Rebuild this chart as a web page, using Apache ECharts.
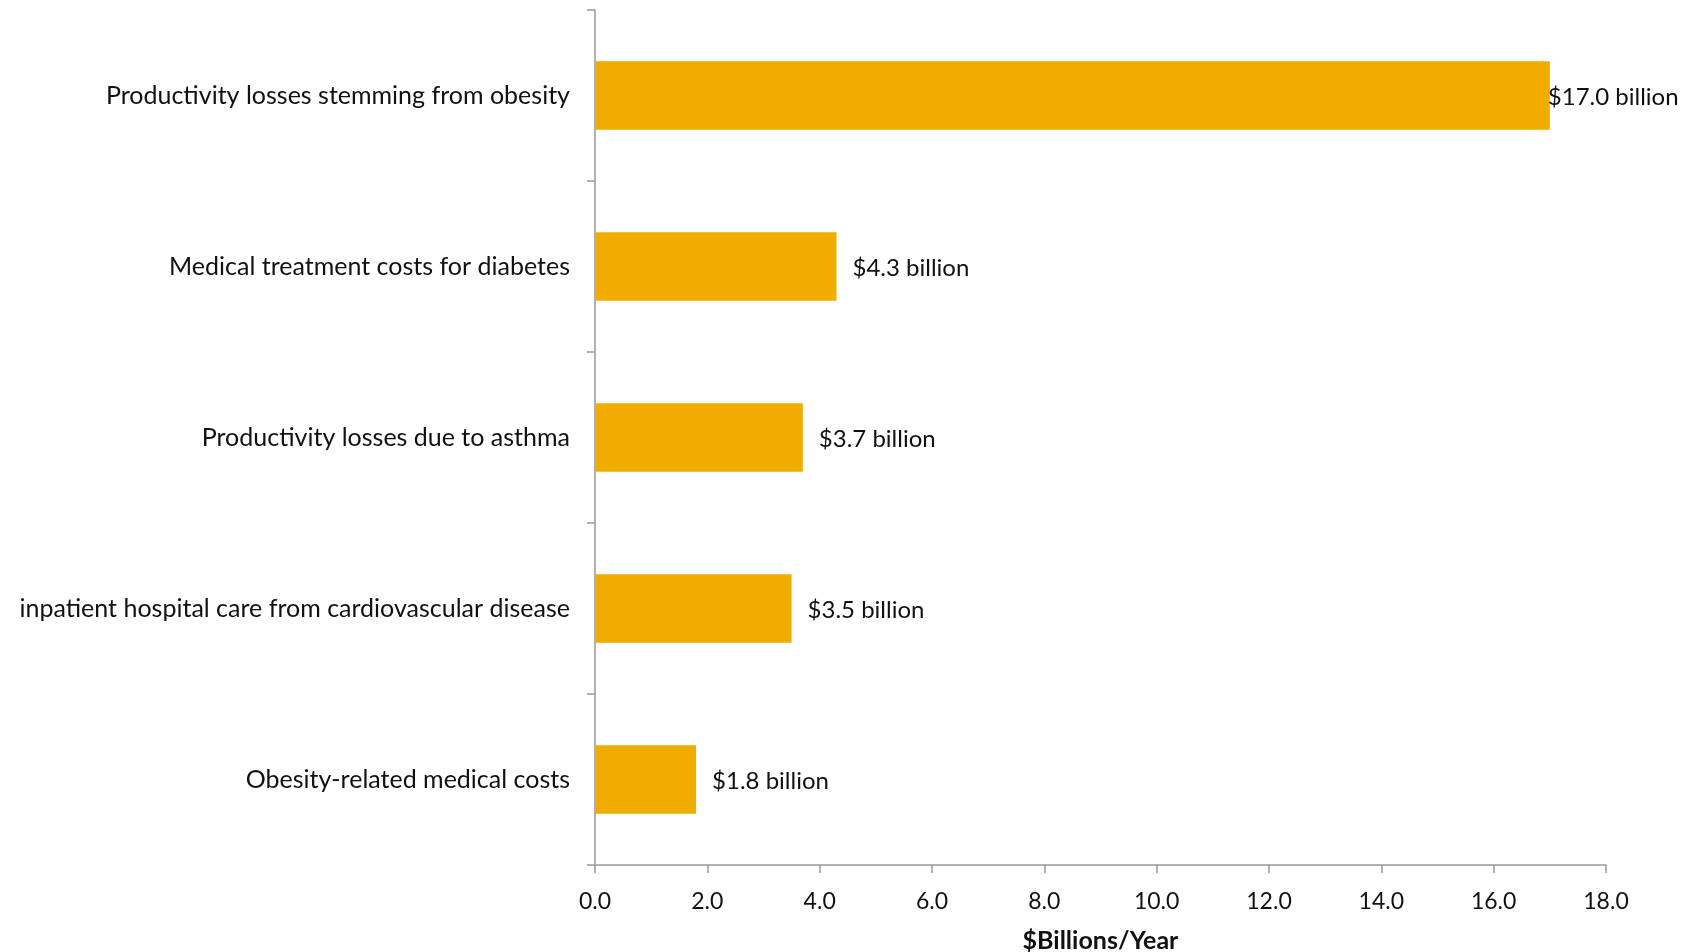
<!DOCTYPE html>
<html>
<head>
<meta charset="utf-8">
<script src="https://cdn.jsdelivr.net/npm/echarts@6/dist/echarts.min.js"></script>
<style>
  html, body { margin: 0; padding: 0; background: #fff; }
  #main { width: 1686px; height: 952px; }
</style>
</head>
<body>
<div id="main"></div>
<script>
// categories top to bottom, values in $ billions per year
const categories = [
  'Productivity losses stemming from obesity',
  'Medical treatment costs for diabetes',
  'Productivity losses due to asthma',
  'inpatient hospital care from cardiovascular disease',
  'Obesity-related medical costs'
];
const costs = [17.0, 4.3, 3.7, 3.5, 1.8];
const xTickMax = 18;
const xTickStep = 2;

let chart = echarts.init(document.getElementById('main'));
const font = 'Lato, "Open Sans", sans-serif';

let option = {
  animation: false,
  grid: { left: 595, right: 80, top: 10, bottom: 87, containLabel: false, outerBoundsMode: 'none' },
  xAxis: {
    type: 'value',
    min: 0,
    max: xTickMax,
    interval: xTickStep,
    name: '$Billions/Year',
    nameLocation: 'middle',
    nameGap: 63,
    nameTextStyle: { fontFamily: font, fontSize: 25, fontWeight: 'bold', color: '#111' },
    axisLine: { show: true, lineStyle: { color: '#999', width: 1.5 } },
    axisTick: { show: true, length: 8, lineStyle: { color: '#999', width: 1.5 } },
    axisLabel: {
      margin: 25,
      fontFamily: font, fontSize: 23, color: '#111',
      formatter: v => v.toFixed(1)
    },
    splitLine: { show: false }
  },
  yAxis: {
    type: 'category',
    inverse: true,
    data: categories,
    axisLine: { show: true, lineStyle: { color: '#999', width: 1.5 } },
    axisTick: { show: true, length: 8, lineStyle: { color: '#999', width: 1.5 } },
    axisLabel: { margin: 25, fontFamily: font, fontSize: 25, color: '#111' }
  },
  series: [{
    type: 'bar',
    barCategoryGap: '60%',
    itemStyle: { color: '#F0AD00' },
    label: {
      show: true,
      position: 'right',
      distance: 16,
      offset: [0, 2],
      fontFamily: font, fontSize: 24, color: '#111',
      formatter: p => '$' + p.value.toFixed(1) + ' billion'
    },
    // the longest bar's label sits on its end so it stays inside the page
    data: costs.map((v, i) => i === 0
      ? { value: v, label: { distance: -2 } }
      : v)
  }]
};

chart.setOption(option);
window.addEventListener('resize', () => chart.resize());
</script>
</body>
</html>
